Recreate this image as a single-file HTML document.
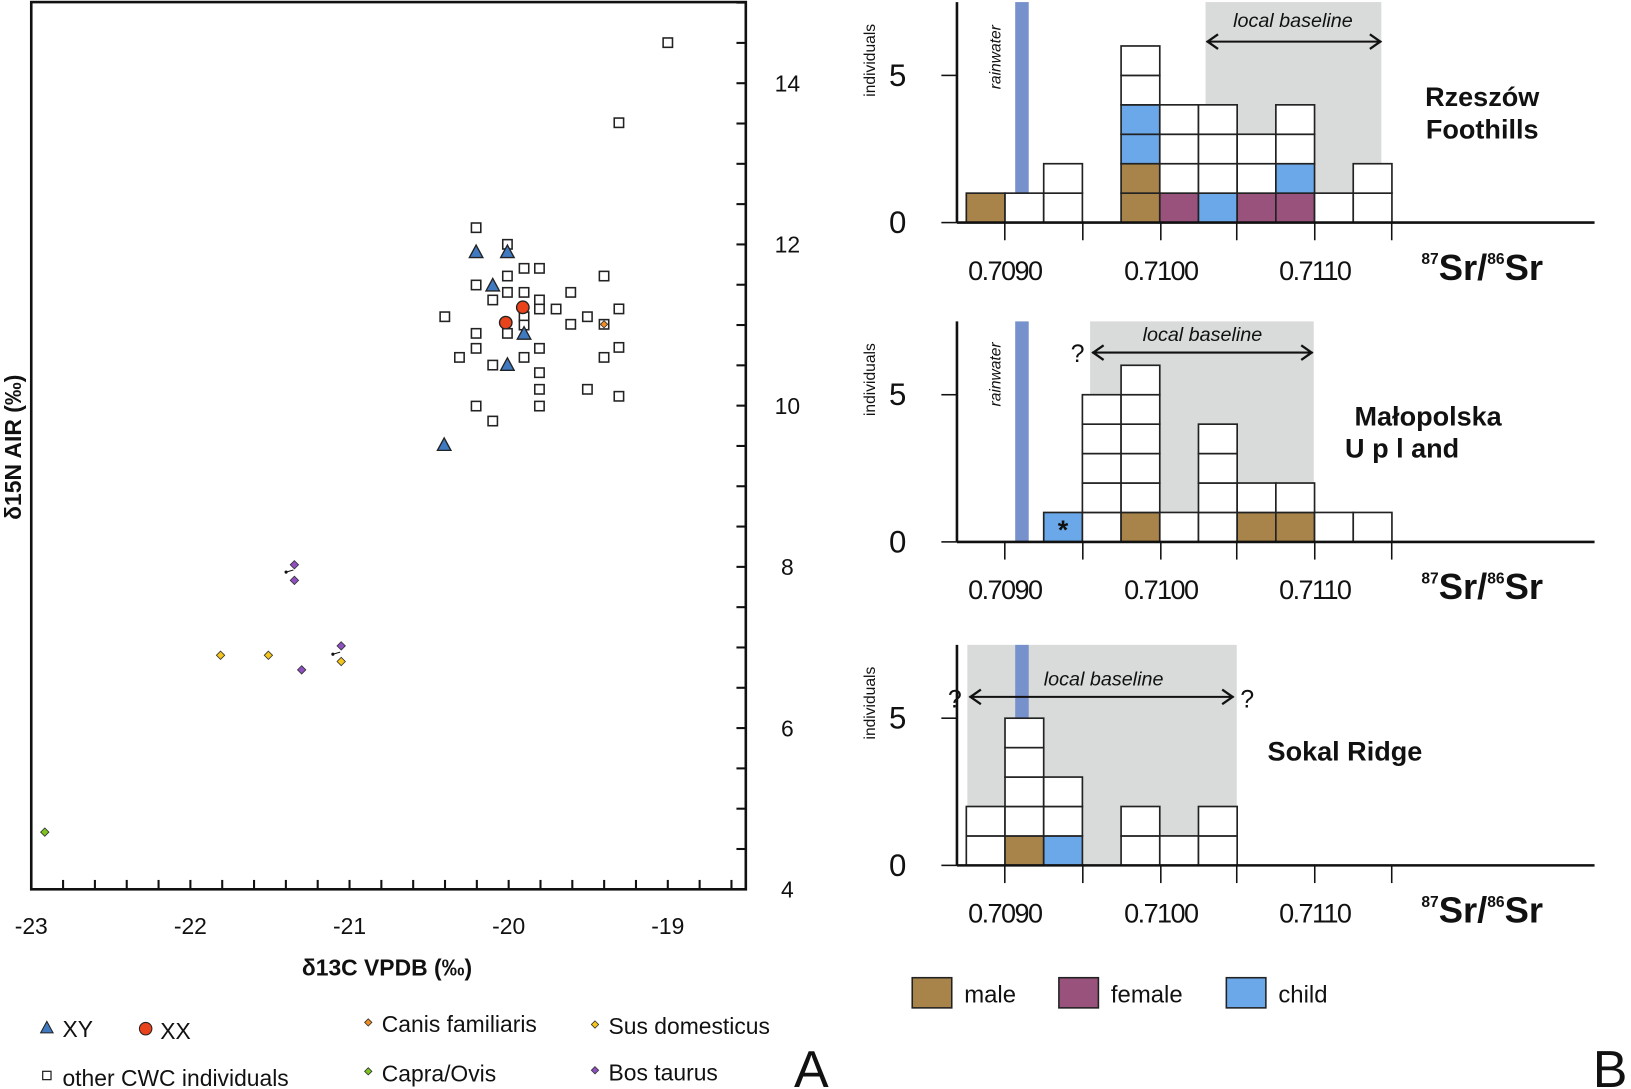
<!DOCTYPE html>
<html><head><meta charset="utf-8"><style>body{margin:0;background:#fff}svg{display:block}text{font-family:"Liberation Sans",sans-serif}</style></head>
<body>
<svg id="s" width="1631" height="1089" viewBox="0 0 1568 1047" xmlns="http://www.w3.org/2000/svg">
<rect x="0" y="0" width="1568" height="1047" fill="#fff"/>
<g id="A"></g><g id="B"></g>
</svg>
<script>
const NS="http://www.w3.org/2000/svg";
function el(p,t,a,txt){const e=document.createElementNS(NS,t);for(const k in a)e.setAttribute(k,a[k]);if(txt!==undefined)e.textContent=txt;p.appendChild(e);return e;}
const A=document.getElementById('A'),B=document.getElementById('B');
el(A,'rect',{x:30,y:2,width:687,height:853,fill:'none',stroke:'#111','stroke-width':2.5});
for(let v=-23;v<=-18.5;v+=0.2){const x=30+(v+23)*153;if(x>717)break;el(A,'line',{x1:x,y1:855,x2:x,y2:846,stroke:'#111','stroke-width':2});}
for(let v=4;v<=15;v+=0.5){const y=855-(v-4)*77.5;if(y<2)break;el(A,'line',{x1:717,y1:y,x2:708,y2:y,stroke:'#111','stroke-width':2});}
[-23,-22,-21,-20,-19].forEach(v=>el(A,'text',{x:30+(v+23)*153,y:898,'font-size':22,'text-anchor':'middle',fill:'#111'},String(v)));
[4,6,8,10,12,14].forEach(v=>el(A,'text',{x:757,y:855-(v-4)*77.5+8,'font-size':22,'text-anchor':'middle',fill:'#111'},String(v)));
el(A,'text',{x:372,y:938,'font-size':22,'font-weight':'bold','text-anchor':'middle',fill:'#111'},'δ13C VPDB (‰)');
el(A,'text',{x:0,y:0,'font-size':22,'font-weight':'bold','text-anchor':'middle',fill:'#111',transform:'translate(20,430) rotate(-90)'},'δ15N AIR (‰)');
const sq=[[457.7,218.9],[487.8,234.9],[503.8,258],[518.6,258],[580.7,265.4],[457.7,274],[487.8,265.4],[487.8,281.1],[503.8,281.1],[548.7,281.1],[473.7,288.4],[518.6,288.4],[518.6,297.1],[534.6,297.1],[564.7,304.5],[427.6,304.5],[503.8,304.5],[503.8,312.5],[548.7,311.8],[457.7,320.5],[487.8,320.5],[457.7,334.9],[518.6,334.9],[441.7,343.6],[503.8,343.6],[580.7,343.6],[473.7,351],[518.6,358.3],[518.6,374.3],[564.7,374.3],[457.7,390.4],[518.6,390.4],[473.7,404.8],[595,297],[595,334],[595,381],[642,41],[595,118],[580.7,311.8]];
sq.forEach(p=>el(A,'rect',{x:p[0]-4.5,y:p[1]-4.5,width:9,height:9,fill:'#fff',stroke:'#222','stroke-width':1.5}));
function dia(x,y,c,r=4){el(A,'polygon',{points:`${x},${y-r} ${x+r},${y} ${x},${y+r} ${x-r},${y}`,fill:c,stroke:'#333','stroke-width':0.8});}
dia(580.7,311.8,'#f28c1e',3.5);
[[457.7,242.6],[487.8,242.6],[473.7,274.7],[503.8,321.1],[487.8,351],[427,428]].forEach(p=>el(A,'polygon',{points:`${p[0]},${p[1]-7} ${p[0]+6.5},${p[1]+5} ${p[0]-6.5},${p[1]+5}`,fill:'#3f79c0',stroke:'#222','stroke-width':1.3}));
[[502.6,295.5],[486.2,310.2]].forEach(p=>el(A,'circle',{cx:p[0],cy:p[1],r:6,fill:'#e8431a',stroke:'#222','stroke-width':1.3}));
[[283,543],[283,558],[328,621],[290,644]].forEach(p=>dia(p[0],p[1],'#8e4fc0'));
[[212,630],[258,630],[328,636]].forEach(p=>dia(p[0],p[1],'#f4c51a'));
dia(43,800,'#7cc41e');
el(A,'line',{x1:275,y1:550,x2:282,y2:548,stroke:'#111','stroke-width':1});el(A,'circle',{cx:275,cy:550,r:1.5,fill:'#111'});
el(A,'line',{x1:320,y1:629,x2:327,y2:627,stroke:'#111','stroke-width':1});el(A,'circle',{cx:320,cy:629,r:1.5,fill:'#111'});
el(A,'polygon',{points:'45,982 51,993 39,993',fill:'#3f79c0',stroke:'#222','stroke-width':1});
el(A,'text',{x:60,y:997,'font-size':22,fill:'#111'},'XY');
el(A,'circle',{cx:140,cy:989,r:6,fill:'#e8431a',stroke:'#222','stroke-width':1});
el(A,'text',{x:154,y:999,'font-size':22,fill:'#111'},'XX');
el(A,'rect',{x:41,y:1030,width:8,height:8,fill:'#fff',stroke:'#222','stroke-width':1.2});
el(A,'text',{x:60,y:1044,'font-size':22,fill:'#111'},'other CWC individuals');
dia(354,983,'#f28c1e',3.5);el(A,'text',{x:367,y:992,'font-size':22,fill:'#111'},'Canis familiaris');
dia(354,1030,'#7cc41e',3.5);el(A,'text',{x:367,y:1040,'font-size':22,fill:'#111'},'Capra/Ovis');
dia(572,985,'#f4c51a',3.5);el(A,'text',{x:585,y:994,'font-size':22,fill:'#111'},'Sus domesticus');
dia(572,1029,'#8e4fc0',3.5);el(A,'text',{x:585,y:1039,'font-size':22,fill:'#111'},'Bos taurus');
el(A,'text',{x:780,y:1045,'font-size':50,'text-anchor':'middle',fill:'#111'},'A');
el(B,'text',{x:1548,y:1045,'font-size':50,'text-anchor':'middle',fill:'#111'},'B');
const col={m:'#a8844a',f:'#98527c',c:'#6aa8ea',w:'#fff'};
const W=37.2,H=28.3;
const panels=[
 {base:214,top:2,gray:[1159,1328],rain:[2,186],cols:{0:'m',1:'w',2:'ww',4:'mmccww',5:'fwww',6:'cwww',7:'fww',8:'fcww',9:'w',10:'ww'},
  arrow:[1160,1328,40],q:[],lb:[1243,26],rw:55,title:[['Rzeszów',1425,102],['Foothills',1425,133]]},
 {base:521,top:309,gray:[1048,1263],rain:[309,521],cols:{2:'c',3:'wwwww',4:'mwwwww',5:'w',6:'wwww',7:'mw',8:'mw',9:'w',10:'w'},
  arrow:[1050,1262,339],q:[[1036,348]],lb:[1156,328],rw:360,title:[['Małopolska',1373,409],['U p l and',1348,440]],star:true},
 {base:832,top:620,gray:[930,1189],rain:[620,690],cols:{0:'ww',1:'mwwww',2:'cww',4:'ww',5:'w',6:'ww'},
  arrow:[932,1186,670],q:[[918,680],[1199,680]],lb:[1061,659],rw:null,title:[['Sokal Ridge',1293,731]]}
];
panels.forEach(P=>{
 el(B,'rect',{x:P.gray[0],y:P.top,width:P.gray[1]-P.gray[0],height:P.base-P.top,fill:'#d9dada'});
 el(B,'rect',{x:976,y:P.rain[0],width:13,height:P.rain[1]-P.rain[0],fill:'#7791cc'});
 for(const k in P.cols){const s=P.cols[k];for(let j=0;j<s.length;j++){el(B,'rect',{x:929+W*k,y:P.base-H*(j+1),width:W,height:H,fill:col[s[j]],stroke:'#222','stroke-width':1.6});}}
 if(P.star)el(B,'text',{x:929+W*2+W/2,y:P.base-3,'font-size':26,'font-weight':'bold','text-anchor':'middle',fill:'#111'},'*');
 el(B,'line',{x1:920,y1:P.top,x2:920,y2:P.base,stroke:'#111','stroke-width':2.5});
 el(B,'line',{x1:920,y1:P.base,x2:1533,y2:P.base,stroke:'#111','stroke-width':2.5});
 el(B,'line',{x1:905,y1:P.base,x2:920,y2:P.base,stroke:'#111','stroke-width':1.5});
 el(B,'line',{x1:905,y1:P.base-5*H,x2:920,y2:P.base-5*H,stroke:'#111','stroke-width':1.5});
 el(B,'text',{x:863,y:P.base+10,'font-size':30,'text-anchor':'middle',fill:'#111'},'0');
 el(B,'text',{x:863,y:P.base-5*H+10,'font-size':30,'text-anchor':'middle',fill:'#111'},'5');
 el(B,'text',{x:0,y:0,'font-size':15,'text-anchor':'middle',fill:'#111',transform:`translate(841,${P.top+56}) rotate(-90)`},'individuals');
 if(P.rw)el(B,'text',{x:0,y:0,'font-size':15,'font-style':'italic','text-anchor':'middle',fill:'#111',transform:`translate(962,${P.rw}) rotate(-90)`},'rainwater');
 [966,1041,1116,1189,1264,1338].forEach(x=>el(B,'line',{x1:x,y1:P.base,x2:x,y2:P.base+17,stroke:'#111','stroke-width':1.5}));
 [['0.7090',966],['0.7100',1116],['0.7110',1264]].forEach(t=>el(B,'text',{x:t[1],y:P.base+55,'font-size':26,'letter-spacing':-1.5,'text-anchor':'middle',fill:'#111'},t[0]));
 const st=el(B,'text',{x:1425,y:P.base+55,'font-size':35,'font-weight':'bold','text-anchor':'middle',fill:'#111'});
 el(st,'tspan',{'font-size':15,dy:-15},'87');el(st,'tspan',{dy:15},'Sr/');el(st,'tspan',{'font-size':15,dy:-15},'86');el(st,'tspan',{dy:15},'Sr');
 const [a1,a2,ay]=P.arrow;
 el(B,'line',{x1:a1,y1:ay,x2:a2,y2:ay,stroke:'#111','stroke-width':2});
 el(B,'polyline',{points:`${a1+11},${ay-7} ${a1+1},${ay} ${a1+11},${ay+7}`,fill:'none',stroke:'#111','stroke-width':2.2});
 el(B,'polyline',{points:`${a2-11},${ay-7} ${a2-1},${ay} ${a2-11},${ay+7}`,fill:'none',stroke:'#111','stroke-width':2.2});
 P.q.forEach(q=>el(B,'text',{x:q[0],y:q[1],'font-size':24,'text-anchor':'middle',fill:'#111'},'?'));
 el(B,'text',{x:P.lb[0],y:P.lb[1],'font-size':19,'font-style':'italic','text-anchor':'middle',fill:'#111'},'local baseline');
 P.title.forEach(t=>el(B,'text',{x:t[1],y:t[2],'font-size':26,'font-weight':'bold','text-anchor':'middle',fill:'#111'},t[0]));
});
[['male',877,'#a8844a'],['female',1018,'#98527c'],['child',1179,'#6aa8ea']].forEach(l=>{
 el(B,'rect',{x:l[1],y:940,width:38,height:29,fill:l[2],stroke:'#222','stroke-width':1.5});
 el(B,'text',{x:l[1]+50,y:964,'font-size':23,fill:'#111'},l[0]);
});
</script>
</body></html>
